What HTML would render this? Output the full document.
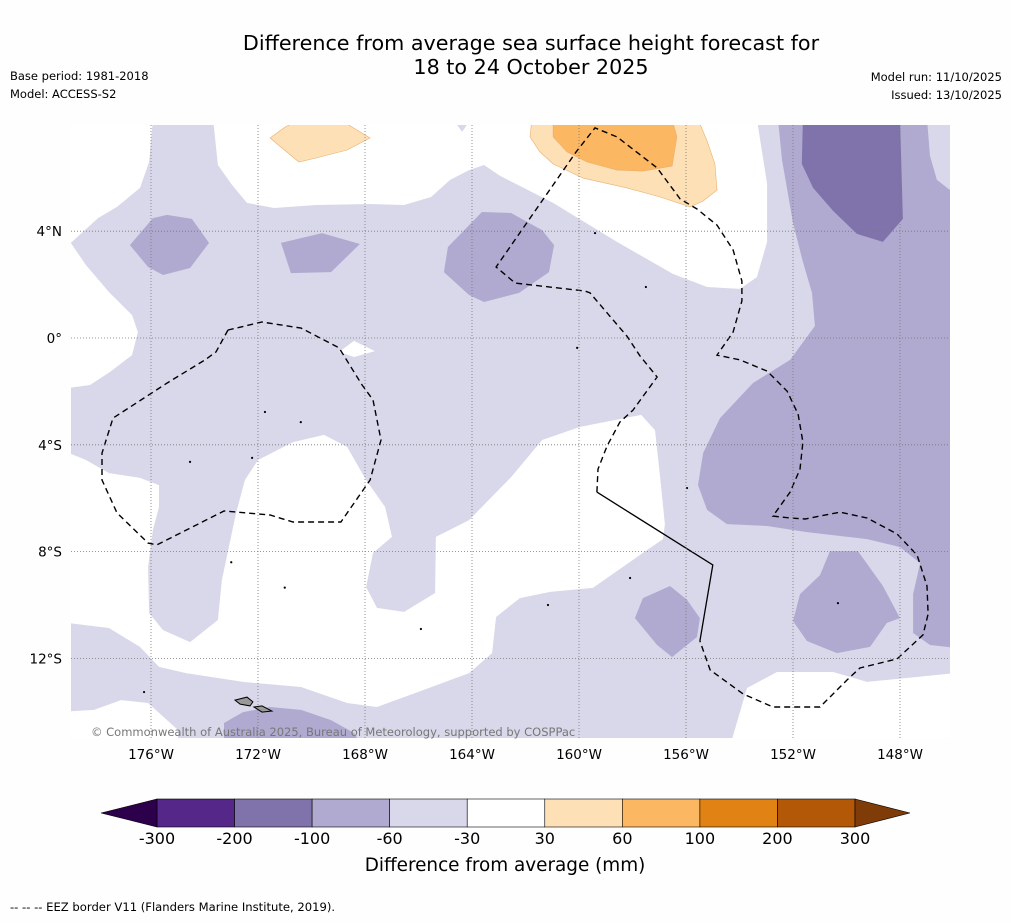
<!DOCTYPE html>
<html><head><meta charset="utf-8">
<style>
html,body{margin:0;padding:0;background:#fefefe;}
body{width:1011px;height:919px;overflow:hidden;position:relative;font-family:"DejaVu Sans","Liberation Sans",sans-serif;}
svg text{font-family:"DejaVu Sans","Liberation Sans",sans-serif;}
</style></head>
<body>
<svg id="chart" width="1011" height="919" viewBox="0 0 1011 919" xmlns="http://www.w3.org/2000/svg">
<defs><clipPath id="mapclip"><rect x="71" y="125" width="879" height="613"/></clipPath></defs>
<text x="531" y="50" font-size="20.7" text-anchor="middle" fill="#000">Difference from average sea surface height forecast for</text>
<text x="531" y="74" font-size="20.7" text-anchor="middle" fill="#000">18 to 24 October 2025</text>
<text x="10" y="80" font-size="11.5">Base period: 1981-2018</text>
<text x="10" y="98" font-size="11.5">Model: ACCESS-S2</text>
<text x="1002" y="81" font-size="11.5" text-anchor="end">Model run: 11/10/2025</text>
<text x="1002" y="99" font-size="11.5" text-anchor="end">Issued: 13/10/2025</text>
<g id="map" clip-path="url(#mapclip)"></g>
<g id="grid"></g>
<g id="axes"></g>
<text x="91" y="736" font-size="11.5" fill="#777">© Commonwealth of Australia 2025, Bureau of Meteorology, supported by COSPPac</text>
<g id="cbar"></g>
<text x="505" y="871" font-size="18.4" text-anchor="middle">Difference from average (mm)</text>
<text x="10" y="911" font-size="11.6">--  --  -- EEZ border V11 (Flanders Marine Institute, 2019).</text>
</svg>
<script>
// ---- axis data ----
const lonTicks = [-176,-172,-168,-164,-160,-156,-152,-148];
const lonTickLabels = ["176°W","172°W","168°W","164°W","160°W","156°W","152°W","148°W"];
const latTicks = [4,0,-4,-8,-12];
const latTickLabels = ["4°N","0°","4°S","8°S","12°S"];
// ---- colorbar data ----
const levelBounds = [-300,-200,-100,-60,-30,30,60,100,200,300];
const levelLabels = ["-300","-200","-100","-60","-30","30","60","100","200","300"];
const levelColors = ["#542788","#8073ac","#b0aad1","#d8d8ea","#ffffff","#fee0b6","#fbb761","#e08214","#b35806"];
const underColor = "#2d004b";
const overColor = "#7f3b08";
// ---- contour polygons (lon, lat) ----
const whiteLeft = [[-180,8.2],[-175.93,8.2],[-176.07,6.59],[-176.41,5.62],[-177.27,4.91],[-177.98,4.49],[-179.0,3.56],[-178.43,2.73],[-177.57,1.72],[-176.71,0.86],[-176.49,0.22],[-176.71,-0.64],[-177.53,-1.27],[-178.28,-1.76],[-180,-2.0]];
const whiteTop = [[-173.68,8.2],[-173.50,6.48],[-172.97,5.73],[-172.41,5.06],[-171.40,4.87],[-169.83,4.98],[-167.81,5.02],[-166.54,4.98],[-165.53,5.28],[-164.82,5.92],[-164.11,6.29],[-163.55,6.48],[-162.95,6.07],[-160.97,5.06],[-158.58,3.60],[-156.49,2.40],[-155.21,1.91],[-153.98,1.84],[-153.35,2.28],[-152.97,3.60],[-152.97,5.77],[-153.35,8.2]];
const whiteSmall = [[-168.97,-0.52],[-168.41,-0.11],[-167.63,-0.49],[-168.41,-0.71]];
const whiteCentral = [[-180,-3.93],[-178.43,-4.57],[-177.57,-5.06],[-176.41,-5.24],[-175.70,-5.51],[-175.70,-6.33],[-175.93,-7.19],[-176.11,-8.58],[-176.07,-10.30],[-175.55,-10.94],[-174.54,-11.39],[-173.50,-10.56],[-173.35,-9.06],[-172.82,-6.55],[-172.49,-5.32],[-172.0,-4.57],[-170.69,-3.90],[-169.53,-3.63],[-168.67,-4.08],[-167.96,-5.32],[-167.25,-6.33],[-166.99,-7.45],[-167.70,-8.05],[-167.96,-9.33],[-167.55,-10.11],[-166.54,-10.26],[-165.38,-9.55],[-165.35,-7.45],[-164.11,-6.82],[-162.54,-5.21],[-161.38,-3.82],[-159.96,-3.33],[-157.68,-2.88],[-157.16,-3.45],[-156.97,-5.21],[-156.79,-6.97],[-156.86,-7.53],[-157.61,-8.05],[-159.48,-9.36],[-161.08,-9.51],[-162.21,-9.74],[-163.10,-10.45],[-163.25,-11.80],[-164.11,-12.55],[-166.13,-13.30],[-167.55,-13.82],[-168.67,-13.67],[-170.39,-13.07],[-172.56,-12.88],[-174.69,-12.55],[-175.70,-12.32],[-176.41,-11.57],[-177.57,-10.86],[-180,-10.56]];
const whiteBottomLeft = [[-180,-14.04],[-178.13,-13.93],[-177.12,-13.56],[-176.11,-13.67],[-174.99,-14.68],[-174.99,-15.3],[-180,-15.3]];
const whiteBottomRight = [[-154.36,-15.3],[-153.72,-13.11],[-152.60,-12.51],[-150.50,-12.51],[-149.23,-12.88],[-145.5,-12.51],[-145.5,-15.3]];
const lavTop = [[-164.71,8.2],[-164.04,8.2],[-164.37,7.72]];
const medA = [[-176.79,3.48],[-175.93,4.49],[-175.40,4.61],[-174.47,4.46],[-173.83,3.56],[-174.54,2.62],[-175.55,2.36],[-176.11,2.66]];
const medB = [[-171.14,3.56],[-169.61,3.93],[-168.19,3.52],[-169.27,2.47],[-170.77,2.43]];
const medC = [[-164.90,3.41],[-163.63,4.72],[-162.54,4.68],[-161.38,4.04],[-160.93,3.48],[-161.12,2.47],[-162.24,1.69],[-163.55,1.35],[-164.11,1.61],[-165.05,2.47]];
const medEast = [[-152.56,8.2],[-152.41,6.67],[-152.0,4.31],[-151.63,2.85],[-151.29,1.69],[-151.18,0.45],[-152.11,-0.82],[-153.50,-1.69],[-154.73,-3.0],[-155.36,-4.31],[-155.55,-5.51],[-155.21,-6.44],[-154.47,-6.97],[-152.97,-7.04],[-151.48,-7.27],[-149.23,-7.53],[-148.0,-7.83],[-147.25,-8.43],[-147.51,-9.59],[-147.51,-11.05],[-146.88,-11.50],[-145.5,-11.65],[-145.5,8.2]];
const lavCorner = [[-146.99,8.2],[-146.88,6.82],[-146.62,5.92],[-145.5,5.06],[-145.5,8.2]];
const darkEast = [[-151.63,8.2],[-151.67,6.52],[-151.25,5.62],[-150.50,4.76],[-149.61,3.90],[-148.64,3.60],[-147.89,4.46],[-148.0,8.2]];
const medD = [[-157.91,-10.49],[-157.61,-9.74],[-156.60,-9.29],[-155.96,-9.81],[-155.48,-10.49],[-155.59,-11.20],[-156.52,-11.95],[-157.08,-11.50]];
const medE = [[-150.62,-7.98],[-149.57,-7.98],[-148.64,-9.29],[-148.0,-10.49],[-148.49,-10.67],[-149.12,-11.57],[-150.36,-11.80],[-151.48,-11.35],[-152.0,-10.60],[-151.74,-9.59],[-150.99,-8.88]];
const medF = [[-173.27,-15.3],[-173.27,-14.42],[-172.56,-14.01],[-171.55,-13.82],[-170.39,-13.93],[-169.27,-14.31],[-168.41,-14.79],[-168.11,-15.3]];
const orangeLightA = [[-171.55,7.49],[-170.99,7.90],[-170.39,8.2],[-168.97,8.2],[-167.81,7.49],[-168.67,7.04],[-169.83,6.74],[-170.47,6.59]];
const orangeLightB = [[-161.76,8.2],[-161.83,7.53],[-161.46,6.97],[-160.97,6.52],[-159.85,5.99],[-158.21,5.62],[-156.97,5.28],[-155.85,4.91],[-155.36,5.13],[-154.84,5.54],[-154.92,6.52],[-155.21,7.38],[-155.55,8.2]];
const orangeMid = [[-160.97,8.2],[-160.97,7.53],[-160.45,6.97],[-159.70,6.59],[-158.58,6.29],[-157.61,6.25],[-156.52,6.44],[-156.34,7.53],[-156.52,8.2]];
// ---- EEZ borders (lon, lat) ----
const eezWest = [[-173.12,0.30],[-173.57,-0.52],[-173.98,-0.82],[-175.40,-1.69],[-177.42,-3.0],[-177.83,-4.31],[-177.83,-5.32],[-177.27,-6.55],[-176.11,-7.68],[-175.78,-7.75],[-173.27,-6.48],[-171.55,-6.63],[-170.69,-6.89],[-168.90,-6.89],[-167.81,-5.32],[-167.40,-3.82],[-167.70,-2.32],[-168.11,-1.76],[-168.97,-0.37],[-170.39,0.37],[-171.85,0.60],[-173.12,0.30]];
const eezEast = [[-159.33,-5.77],[-159.29,-4.91],[-158.95,-4.04],[-158.47,-3.15],[-157.98,-2.70],[-157.08,-1.46],[-157.72,-0.67],[-158.21,0.07],[-159.59,1.69],[-159.78,1.76],[-162.06,2.02],[-162.39,2.06],[-163.10,2.66],[-160.11,6.97],[-159.40,7.87],[-158.58,7.53],[-157.08,6.37],[-156.22,5.21],[-155.59,4.83],[-154.84,4.23],[-154.24,3.30],[-153.91,2.13],[-153.91,1.39],[-154.24,0.22],[-154.84,-0.64],[-153.98,-0.82],[-152.97,-1.24],[-152.22,-1.99],[-151.81,-2.85],[-151.63,-3.90],[-151.74,-4.91],[-152.11,-5.77],[-152.75,-6.67],[-152.11,-6.74],[-151.55,-6.78],[-150.24,-6.52],[-149.23,-6.74],[-148.11,-7.34],[-147.36,-8.13],[-146.99,-9.29],[-146.95,-10.34],[-147.14,-11.12],[-148.11,-12.02],[-149.50,-12.36],[-149.98,-12.81],[-150.99,-13.82],[-152.75,-13.82],[-153.87,-13.33],[-155.10,-12.43],[-155.48,-11.35]];
const eezSolid = [[-155.48,-11.35],[-155.00,-8.50],[-159.33,-5.77]];
const islandDots = [[-171.74,-2.77],[-174.54,-4.64],[-172.22,-4.49],[-159.40,3.93],[-157.50,1.91],[-158.09,-8.99],[-161.16,-10.0],[-165.91,-10.90],[-176.26,-13.26],[-150.32,-9.93],[-160.07,-0.37],[-155.96,-5.62],[-170.4,-3.15],[-173.0,-8.4],[-171.0,-9.35]];
const samoaA = [[-172.86,-13.56],[-172.41,-13.45],[-172.19,-13.63],[-172.30,-13.78],[-172.67,-13.71]];
const samoaB = [[-172.15,-13.82],[-171.85,-13.78],[-171.48,-13.97],[-171.85,-14.01]];

// ---- axis functions ----
const X = lon => 151 + (lon + 176) * 26.75;
const Y = lat => 338 - lat * 26.7;
const NS = "http://www.w3.org/2000/svg";
function mk(tag, attrs, parent){
  const e = document.createElementNS(NS, tag);
  for (const k in attrs) e.setAttribute(k, attrs[k]);
  parent.appendChild(e); return e;
}
const ptsStr = arr => arr.map(p => X(p[0]).toFixed(1) + "," + Y(p[1]).toFixed(1)).join(" ");
const map = document.getElementById("map");
let bg = mk("rect", {x:71, y:125, width:879, height:613, fill:"#d8d8ea"}, map);


const layers = [
  ["white-region-west", whiteLeft, "#ffffff"],
  ["white-region-north", whiteTop, "#ffffff"],
  ["white-region-small", whiteSmall, "#ffffff"],
  ["white-region-central", whiteCentral, "#ffffff"],
  ["white-region-southwest", whiteBottomLeft, "#ffffff"],
  ["white-region-southeast", whiteBottomRight, "#ffffff"],
  ["lavender-region-north", lavTop, "#d8d8ea"],
  ["medium-region-a", medA, "#b0aad1"],
  ["medium-region-b", medB, "#b0aad1"],
  ["medium-region-c", medC, "#b0aad1"],
  ["medium-region-east", medEast, "#b0aad1"],
  ["lavender-region-corner", lavCorner, "#d8d8ea"],
  ["dark-region-east", darkEast, "#8073ac"],
  ["medium-region-d", medD, "#b0aad1"],
  ["medium-region-e", medE, "#b0aad1"],
  ["medium-region-f", medF, "#b0aad1"],
  ["orange-light-region-a", orangeLightA, "#fee0b6"],
  ["orange-light-region-b", orangeLightB, "#fee0b6"],
  ["orange-region", orangeMid, "#fbb761"]
];
layers.forEach(l => {
  const stroke = l[2] === "#fee0b6" || l[2] === "#fbb761" ? "#e8b070" : "none";
  const p = mk("polygon", {points: ptsStr(l[1]), fill: l[2], stroke: stroke, "stroke-width": 0.6}, map);
  
  
});
islandDots.forEach(d => {
  const c = mk("circle", {cx: X(d[0]), cy: Y(d[1]), r: 1.1, fill: "#000"}, map);
  
  
});
[samoaA, samoaB].forEach(s => {
  const p = mk("polygon", {points: ptsStr(s), fill: "#999", stroke: "#000", "stroke-width": 1}, map);
  
  
});
const e1 = mk("polyline", {points: ptsStr(eezWest), fill: "none", stroke: "#000", "stroke-width": 1.4, "stroke-dasharray": "6,4"}, map);


const e2 = mk("polyline", {points: ptsStr(eezEast), fill: "none", stroke: "#000", "stroke-width": 1.4, "stroke-dasharray": "6,4"}, map);


const e3 = mk("polyline", {points: ptsStr(eezSolid), fill: "none", stroke: "#000", "stroke-width": 1.3}, map);



// graticule + tick labels
const grid = document.getElementById("grid");
const axes = document.getElementById("axes");
lonTicks.forEach((lon, i) => {
  const l = mk("line", {x1: X(lon), x2: X(lon), y1: 125, y2: 738, stroke: "#777", "stroke-width": 0.8, "stroke-dasharray": "1,2"}, grid);
  
  
  const t = mk("text", {x: X(lon), y: 759, "font-size": 13.5, "text-anchor": "middle"}, axes);
  t.textContent = lonTickLabels[i];
  
  
});
latTicks.forEach((lat, i) => {
  const l = mk("line", {x1: 71, x2: 950, y1: Y(lat), y2: Y(lat), stroke: "#777", "stroke-width": 0.8, "stroke-dasharray": "1,2"}, grid);
  
  
  const t = mk("text", {x: 62, y: Y(lat) + 5, "font-size": 13.5, "text-anchor": "end"}, axes);
  t.textContent = latTickLabels[i];
  
  
});

// colorbar
const cbar = document.getElementById("cbar");
const cbX0 = 157, cbX1 = 855, cbY0 = 799, cbY1 = 827;
const segW = (cbX1 - cbX0) / levelColors.length;
const bx = i => cbX0 + i * segW;
levelColors.forEach((c, i) => {
  const r = mk("rect", {x: bx(i), y: cbY0, width: segW, height: cbY1 - cbY0, fill: c, stroke: "#000", "stroke-width": 0.6}, cbar);
  
  
});
const tl = mk("polygon", {points: `${cbX0},${cbY0} ${cbX0},${cbY1} 101,${(cbY0+cbY1)/2}`, fill: underColor, stroke: "#000", "stroke-width": 0.6}, cbar);


const tr = mk("polygon", {points: `${cbX1},${cbY0} ${cbX1},${cbY1} 910,${(cbY0+cbY1)/2}`, fill: overColor, stroke: "#000", "stroke-width": 0.6}, cbar);


levelBounds.forEach((v, i) => {
  const t = mk("text", {x: bx(i), y: 844, "font-size": 16, "text-anchor": "middle"}, cbar);
  t.textContent = levelLabels[i];
  
  
});
</script>
</body></html>
